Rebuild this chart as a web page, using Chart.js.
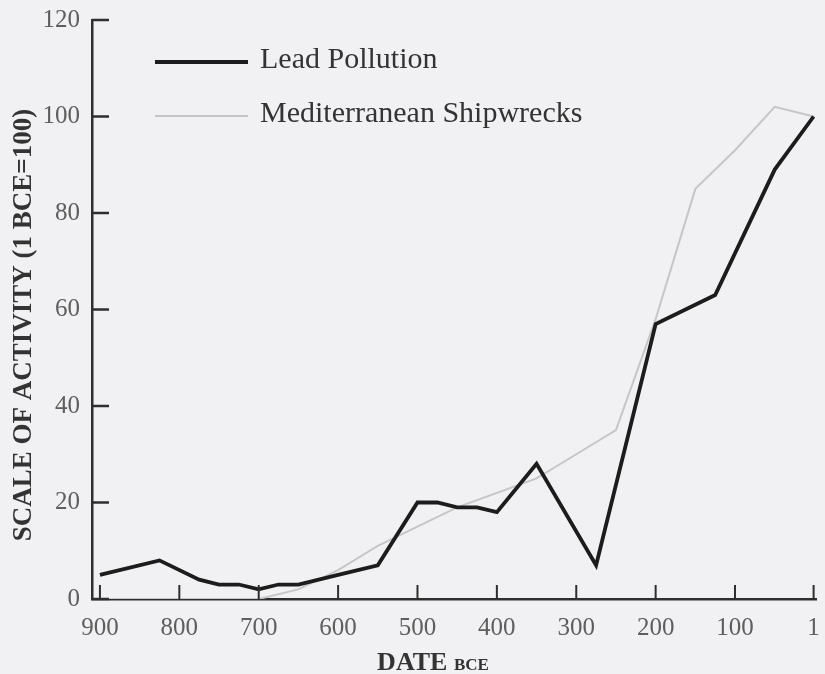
<!DOCTYPE html>
<html>
<head>
<meta charset="utf-8">
<script src="https://cdn.jsdelivr.net/npm/chart.js@4/dist/chart.umd.min.js"></script>
<style>
  html, body { margin: 0; padding: 0; background: #f1f1f3; }
  #wrap { width: 825px; height: 674px; position: relative; }
</style>
</head>
<body>
<div id="wrap"><canvas id="c" width="825" height="674"></canvas></div>
<script>
// Lead pollution index by date (years BCE)
const leadYears  = [900, 825, 775, 750, 725, 700, 675, 650, 600, 550, 500, 475, 450, 425, 400, 350, 275, 200, 125, 50, 1];
const leadValues = [5, 8, 4, 3, 3, 2, 3, 3, 5, 7, 20, 20, 19, 19, 18, 28, 7, 57, 63, 89, 100];

// Mediterranean shipwreck index by date (years BCE)
const wreckYears  = [900, 850, 800, 750, 700, 650, 600, 550, 500, 450, 400, 350, 300, 250, 200, 150, 100, 50, 1];
const wreckValues = [0, 0, 0, 0, 0, 2, 6, 11, 15, 19, 22, 25, 30, 35, 58, 85, 93, 102, 100];

const seriesLabels = ['Lead Pollution', 'Mediterranean Shipwrecks'];
const xTickValues = [900, 800, 700, 600, 500, 400, 300, 200, 100, 1];
const yTickValues = [0, 20, 40, 60, 80, 100, 120];
const yAxisTitle = 'SCALE OF ACTIVITY (1 BCE=100)';
const xAxisTitle = 'DATE';
const xAxisTitleSuffix = 'BCE';

const SERIF = '"Liberation Serif", "DejaVu Serif", serif';
const AXIS_COLOR = '#2e2e2e';

const toPoints = (xs, ys) => xs.map((x, i) => ({ x: x, y: ys[i] }));

// Tick marks drawn on the inner side of both axes
const innerTicks = {
  id: 'innerTicks',
  afterDatasetsDraw(chart) {
    const { ctx, chartArea, scales } = chart;
    ctx.save();
    ctx.strokeStyle = AXIS_COLOR;
    ctx.lineWidth = 2;
    scales.x.ticks.forEach(t => {
      const px = scales.x.getPixelForValue(t.value);
      ctx.beginPath();
      ctx.moveTo(px, chartArea.bottom);
      ctx.lineTo(px, chartArea.bottom - 14);
      ctx.stroke();
    });
    ctx.lineWidth = 2.5;
    scales.y.ticks.forEach(t => {
      const py = scales.y.getPixelForValue(t.value);
      ctx.beginPath();
      ctx.moveTo(chartArea.left, py);
      ctx.lineTo(chartArea.left + 17, py);
      ctx.stroke();
    });
    ctx.restore();
  }
};

// Axis titles: rotated y title and "DATE BCE" with small-caps suffix
const axisTitles = {
  id: 'axisTitles',
  afterDraw(chart) {
    const { ctx } = chart;
    ctx.save();
    ctx.fillStyle = '#333';
    ctx.translate(31, 325);
    ctx.rotate(-Math.PI / 2);
    ctx.font = 'bold 27px ' + SERIF;
    ctx.textAlign = 'center';
    ctx.textBaseline = 'alphabetic';
    ctx.fillText(yAxisTitle, 0, 0);
    ctx.restore();

    ctx.save();
    ctx.fillStyle = '#333';
    ctx.textBaseline = 'alphabetic';
    ctx.font = 'bold 26px ' + SERIF;
    const w1 = ctx.measureText(xAxisTitle + ' ').width;
    ctx.font = 'bold 17px ' + SERIF;
    const w2 = ctx.measureText(xAxisTitleSuffix).width;
    const startX = 433 - (w1 + w2) / 2;
    ctx.font = 'bold 26px ' + SERIF;
    ctx.fillText(xAxisTitle, startX, 670);
    ctx.font = 'bold 17px ' + SERIF;
    ctx.fillText(xAxisTitleSuffix, startX + w1, 670);
    ctx.restore();
  }
};

// Legend inside the plot, upper left
const insideLegend = {
  id: 'insideLegend',
  afterDraw(chart) {
    const { ctx } = chart;
    const rows = [{ lineY: 62, baseY: 68 }, { lineY: 116, baseY: 122 }];
    ctx.save();
    chart.data.datasets.forEach((ds, i) => {
      const r = rows[i];
      ctx.strokeStyle = ds.borderColor;
      ctx.lineWidth = ds.borderWidth;
      ctx.beginPath();
      ctx.moveTo(155, r.lineY);
      ctx.lineTo(248, r.lineY);
      ctx.stroke();
      ctx.fillStyle = '#333';
      ctx.font = '30px ' + SERIF;
      ctx.textBaseline = 'alphabetic';
      ctx.fillText(ds.label, 260, r.baseY);
    });
    ctx.restore();
  }
};

new Chart(document.getElementById('c'), {
  type: 'line',
  data: {
    datasets: [
      {
        label: seriesLabels[0],
        data: toPoints(leadYears, leadValues),
        borderColor: '#1c1c1c',
        borderWidth: 3.8,
        pointRadius: 0,
        tension: 0,
        fill: false
      },
      {
        label: seriesLabels[1],
        data: toPoints(wreckYears, wreckValues),
        borderColor: '#c6c6c8',
        borderWidth: 2,
        pointRadius: 0,
        tension: 0,
        fill: false
      }
    ]
  },
  options: {
    responsive: false,
    animation: false,
    devicePixelRatio: 1,
    layout: { padding: { left: 0, right: 9, top: 20, bottom: 0 } },
    plugins: { legend: { display: false }, tooltip: { enabled: false } },
    scales: {
      x: {
        type: 'linear',
        reverse: true,
        min: -2,
        max: 910,
        afterBuildTicks: s => { s.ticks = xTickValues.map(v => ({ value: v })); },
        afterFit: s => { s.height = 75; s.paddingLeft = 0; s.paddingRight = 0; },
        ticks: {
          autoSkip: false,
          maxRotation: 0,
          padding: 14,
          color: '#5e5e5e',
          font: { family: SERIF, size: 25 },
          callback: v => String(v)
        },
        grid: { display: false, drawTicks: false },
        border: { display: true, color: AXIS_COLOR, width: 2.5 }
      },
      y: {
        type: 'linear',
        min: 0,
        max: 120,
        afterBuildTicks: s => { s.ticks = yTickValues.map(v => ({ value: v })); },
        afterFit: s => { s.width = 92; s.paddingTop = 0; s.paddingBottom = 0; },
        ticks: {
          padding: 12,
          color: '#5e5e5e',
          font: { family: SERIF, size: 25 },
          callback: v => String(v)
        },
        grid: { display: false, drawTicks: false },
        border: { display: true, color: AXIS_COLOR, width: 2.5 }
      }
    }
  },
  plugins: [innerTicks, axisTitles, insideLegend]
});
</script>
</body>
</html>
